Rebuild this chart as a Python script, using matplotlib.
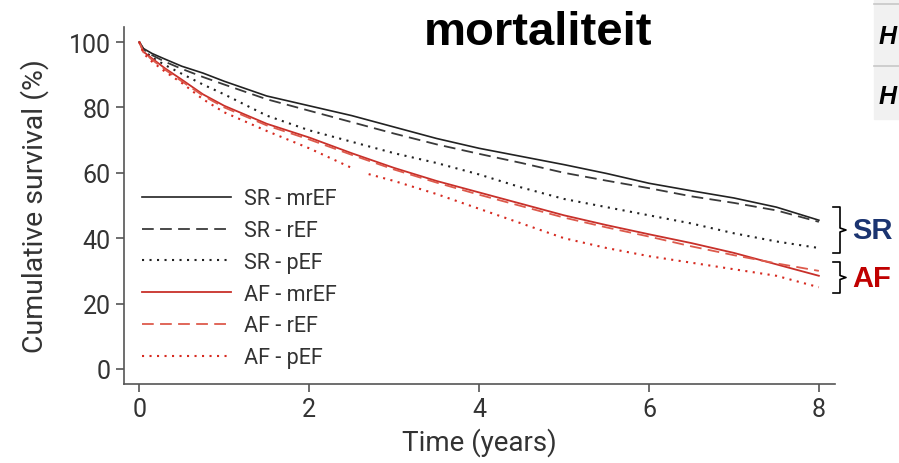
import numpy as np
import matplotlib
matplotlib.use("Agg")
import matplotlib.pyplot as plt
from matplotlib.patches import Rectangle
from matplotlib.lines import Line2D

# time in years
t = [0, 0.05, 0.15, 0.3, 0.5, 0.75, 1.0, 1.5, 2.0, 2.5, 3.0, 3.5, 4.0,
     4.5, 5.0, 5.5, 6.0, 6.5, 7.0, 7.5, 8.0]

sr_mref = [100, 98, 96.5, 94.8, 92.6, 90.5, 88, 83.5, 80.5, 77.5, 74, 70.5, 67.5,
           65, 62.5, 59.8, 56.8, 54.5, 52.3, 49.5, 45.5]
sr_ref = [100, 97.8, 96, 94, 91.8, 89.3, 87, 82.5, 79, 75.5, 72, 68.7, 65.8,
          63, 60, 57.6, 55.3, 52.8, 50.8, 48.5, 45]
sr_pef = [100, 97.5, 95.3, 93, 90.3, 87, 84, 77.5, 73, 69.5, 66, 63, 59.5,
          55.5, 52, 49.5, 47, 44.5, 41.5, 39, 37]
af_mref = [100, 97, 95, 92, 88.5, 84, 80.5, 75, 70.8, 66, 61.5, 57.5, 54,
           50.5, 47, 44, 41.2, 38.5, 35.5, 32, 28.5]
af_ref = [100, 96.8, 94.6, 91.6, 88, 83.6, 80, 74.5, 70.2, 65.5, 61, 57, 53.3,
          49.8, 46.3, 43.3, 40.5, 37.5, 34.8, 32.3, 30]

# AF - pEF has a small break around 2.6 years
t_af_pef = [0, 0.05, 0.15, 0.3, 0.5, 0.75, 1.0, 1.5, 2.0, 2.5, 2.6, 2.7, 3.0, 3.5, 4.0,
            4.5, 5.0, 5.5, 6.0, 6.5, 7.0, 7.5, 8.0]
af_pef = [100, 96.5, 94, 91, 87.5, 82.5, 78.5, 72.8, 67.5, 61.5, np.nan, 59.6, 57.5, 53.5, 49,
          44.5, 40, 37, 34.5, 32.5, 30.5, 28.5, 25]

labels = ["SR - mrEF", "SR - rEF", "SR - pEF", "AF - mrEF", "AF - rEF", "AF - pEF"]

W, H = 899, 464
fig = plt.figure(figsize=(W / 100, H / 100), dpi=100)
ax = fig.add_axes([124 / W, 1 - 385 / H, (835 - 124) / W, (385 - 28) / H])

font = "Roboto"
tick_col = "#333333"

ax.plot(t, sr_mref, color="#222222", lw=1.2, ls="-", label=labels[0])
ax.plot(t, sr_ref, color="#3a3a3a", lw=1.3, ls=(0, (6.5, 3.5)), label=labels[1])
ax.plot(t, sr_pef, color="#222222", lw=1.5, ls=(0, (1, 2.6)), label=labels[2])
ax.plot(t, af_mref, color="#c8302a", lw=1.3, ls="-", label=labels[3])
ax.plot(t, af_ref, color="#dd5a4c", lw=1.3, ls=(0, (6.5, 3.5)), label=labels[4])
ax.plot(t_af_pef, af_pef, color="#d62a20", lw=1.5, ls=(0, (1, 2.6)), label=labels[5])

ax.set_xlim(-0.18, 8.19)
ax.set_ylim(-4.6, 104.6)
ax.set_xticks([0, 2, 4, 6, 8])
ax.set_yticks([0, 20, 40, 60, 80, 100])
for s in ["top", "right"]:
    ax.spines[s].set_visible(False)
for s in ["left", "bottom"]:
    ax.spines[s].set_color("#555555")
    ax.spines[s].set_linewidth(1.2)
ax.tick_params(colors="#555555", labelcolor=tick_col, length=6, width=1.2, labelsize=18)
for lab in ax.get_xticklabels() + ax.get_yticklabels():
    lab.set_family(font)

ax.set_xlabel("Time (years)", fontsize=20, family=font, color=tick_col, labelpad=4)
ax.set_ylabel("Cumulative survival (%)", fontsize=20.5, family=font, color=tick_col, labelpad=14)

leg = ax.legend(loc="upper left", bbox_to_anchor=(123 / W, 1 - 170 / H),
                bbox_transform=fig.transFigure, frameon=False,
                prop={"family": font, "size": 15.5}, handlelength=4.1,
                handletextpad=0.6, labelspacing=0.5)
for txt in leg.get_texts():
    txt.set_color(tick_col)

fig.text(538 / W, 1 - 45 / H, "mortaliteit", ha="center", va="baseline",
         fontsize=34, fontweight="bold", family="Liberation Sans")

# brackets next to the curve ends
def bracket(y0, y1):
    ym = (y0 + y1) / 2
    xs = [833, 840, 840, 846, 840, 840, 833]
    ys = [y0, y0, ym - 2, ym, ym + 2, y1, y1]
    fig.add_artist(Line2D([x / W for x in xs], [1 - y / H for y in ys],
                          color="black", lw=1.2))

bracket(208, 254)
bracket(263, 294)
fig.text(852 / W, 1 - 231 / H, "SR", ha="left", va="center", fontsize=21,
         fontweight="bold", color="#1b3470", family="Liberation Sans")
fig.text(852 / W, 1 - 279 / H, "AF", ha="left", va="center", fontsize=21,
         fontweight="bold", color="#c00000", family="Liberation Sans")

# cut-off table in the top right corner
fig.add_artist(Rectangle((874 / W, 1 - 120 / H), 25 / W, 120 / H,
                         transform=fig.transFigure, color="#f1f1f1", zorder=0))
for yy in [5, 67]:
    fig.add_artist(Line2D([874 / W, 1], [1 - yy / H] * 2, color="#c8c8c8", lw=1.2))
for yy in [37, 97]:
    fig.text(879 / W, 1 - yy / H, "H", ha="left", va="center", fontsize=18,
             fontweight="bold", style="italic", family="Liberation Sans")

fig.savefig("out.png", dpi=100)
